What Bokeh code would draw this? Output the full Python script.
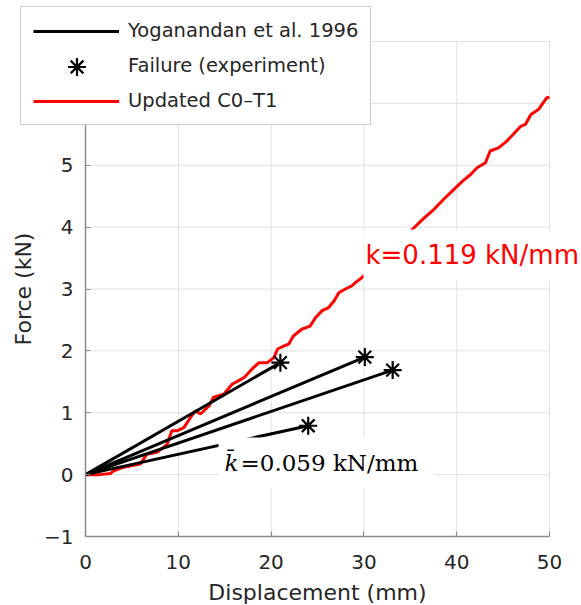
from bokeh.plotting import figure
from bokeh.models import Range1d, FixedTicker, Label, Legend, LegendItem
from bokeh.embed import file_html
from bokeh.resources import INLINE

# ---- data ----
# Updated C0-T1 model curve
model_disp = [0.0, 1.5, 2.7, 3.05, 4.1, 5.2, 5.9, 6.6, 7.7, 8.8, 9.3, 9.9, 10.6, 11.3,
              11.85, 12.4, 13.3, 13.8, 14.9, 15.8, 16.5, 17.1, 18.1, 18.7, 19.6, 20.3,
              20.7, 21.4, 21.9, 22.4, 23.3, 24.2, 24.8, 25.5, 26.2, 26.8, 27.3, 28.0,
              28.7, 29.3, 29.6, 31.5, 33.5, 35.4, 36.5, 37.5, 38.6, 39.7, 40.6, 41.5,
              42.2, 43.1, 43.6, 44.5, 45.4, 46.1, 46.9, 47.4, 48.0, 48.8, 49.7, 50.0]
model_force = [0.0, 0.0, 0.02, 0.06, 0.12, 0.15, 0.17, 0.33, 0.36, 0.49, 0.71, 0.71, 0.76, 0.92,
               1.03, 0.98, 1.11, 1.25, 1.30, 1.46, 1.52, 1.57, 1.73, 1.81, 1.81, 1.89,
               2.03, 2.08, 2.11, 2.24, 2.35, 2.40, 2.54, 2.65, 2.70, 2.81, 2.94, 3.00,
               3.05, 3.13, 3.16, 3.42, 3.72, 3.99, 4.15, 4.28, 4.45, 4.61, 4.74, 4.85,
               4.96, 5.04, 5.23, 5.28, 5.39, 5.50, 5.63, 5.66, 5.82, 5.90, 6.09, 6.10]

# Yoganandan et al. 1996: linear responses ending at failure points
fail_disp = [21.0, 30.1, 33.1, 24.0]
fail_force = [1.81, 1.90, 1.69, 0.79]
origin = [0.0, 0.0, 0.0, 0.0]

x_ticks = [0, 10, 20, 30, 40, 50]
y_ticks = [-1, 0, 1, 2, 3, 4, 5, 6, 7]
x_lim = (0, 50)
y_lim = (-1, 7)

legend_labels = ["Yoganandan et al. 1996", "Failure (experiment)", "Updated C0\u2013T1"]
model_label = "k=0.119 kN/mm"
exp_label_sym = "k\u0304"
exp_label_rest = "=0.059 kN/mm"

FONT = "DejaVu Sans"
TXT = "#262626"
GRID = "#e0e0e0"

# ---- layout: frame covers whole canvas so the legend/labels can overhang the axes box
W, H = 581, 605
AX_L, AX_R, AX_T, AX_B = 85, 549, 41, 536   # pixel box of the axes
sx = (AX_R - AX_L) / (x_lim[1] - x_lim[0])
sy = (AX_B - AX_T) / (y_lim[1] - y_lim[0])
x_range = Range1d(x_lim[0] - AX_L / sx, x_lim[1] + (W - AX_R) / sx)
y_range = Range1d(y_lim[0] - (H - AX_B) / sy, y_lim[1] + AX_T / sy)


def dx(px):
    return x_lim[0] + (px - AX_L) / sx


def dy(py):
    return y_lim[1] - (py - AX_T) / sy


p = figure(width=W, height=H, output_backend="svg", toolbar_location=None,
           x_range=x_range, y_range=y_range,
           min_border_left=0, min_border_right=0, min_border_top=0, min_border_bottom=0)
p.outline_line_color = None
p.background_fill_color = "white"
p.border_fill_color = "white"
p.xgrid.visible = False
p.ygrid.visible = False

# grid lines (from the tick lists, bounded to the axes box)
p.segment(x0=x_ticks, y0=[y_lim[0]] * len(x_ticks), x1=x_ticks, y1=[y_lim[1]] * len(x_ticks),
          line_color=GRID, line_width=1)
p.segment(x0=[x_lim[0]] * len(y_ticks), y0=y_ticks, x1=[x_lim[1]] * len(y_ticks), y1=y_ticks,
          line_color=GRID, line_width=1)

for ax in (p.xaxis[0], p.yaxis[0]):
    ax.axis_line_color = "#8c8c8c"
    ax.axis_line_width = 1.5
    ax.major_tick_line_color = "#8c8c8c"
    ax.major_tick_line_width = 1.2
    ax.major_tick_in = 5
    ax.major_tick_out = 0
    ax.minor_tick_line_color = None
    ax.major_label_text_font = FONT
    ax.major_label_text_font_size = "20px"
    ax.major_label_text_color = TXT
    ax.axis_label_text_font = FONT
    ax.axis_label_text_font_size = "22px"
    ax.axis_label_text_font_style = "normal"
    ax.axis_label_text_color = TXT

p.xaxis.fixed_location = y_lim[0]
p.yaxis.fixed_location = x_lim[0]
p.xaxis.bounds = x_lim
p.yaxis.bounds = y_lim
p.xaxis.ticker = FixedTicker(ticks=x_ticks)
p.yaxis.ticker = FixedTicker(ticks=y_ticks)
p.yaxis.major_label_overrides = {-1: "\u22121", 6: "", 7: ""}
p.xaxis.axis_label = "Displacement (mm)"
p.yaxis.axis_label = "Force (kN)"
p.xaxis.major_label_standoff = 18
p.yaxis.major_label_standoff = 12
p.xaxis.axis_label_standoff = 8
p.yaxis.axis_label_standoff = 5

# red model curve
r_model = p.line(model_disp, model_force, line_color="#ff0000", line_width=3)
# black experimental lines
r_exp = p.segment(x0=origin, y0=origin, x1=fail_disp, y1=fail_force,
                  line_color="black", line_width=3)
# failure stars
r_fail = p.scatter(fail_disp, fail_force, marker="asterisk", size=18,
                   line_color="black", line_width=2.2)
# invisible stand-in so the main legend row keeps its place (star drawn by a 2nd legend)
r_blank = p.scatter(x=[], y=[], marker="asterisk", line_alpha=0, fill_alpha=0)

# labels with white backgrounds
lab_model = Label(x=dx(363), y=dy(254), text=model_label,
                  text_font=FONT, text_font_size="26px", text_color="#ff0000",
                  text_baseline="middle", text_align="left",
                  background_fill_color="white",
                  padding={"left": 2, "right": 20, "top": 10, "bottom": 10})
p.add_layout(lab_model)

lab_exp = Label(x=dx(218), y=dy(462), text=exp_label_rest,
                text_font="DejaVu Serif", text_font_size="23px", text_color="black",
                text_baseline="middle", text_align="left",
                background_fill_color="white",
                padding={"left": 22, "right": 16, "top": 12, "bottom": 12})
p.add_layout(lab_exp)
lab_k = Label(x=dx(224), y=dy(462), text=exp_label_sym,
              text_font="DejaVu Serif", text_font_size="23px", text_font_style="italic",
              text_color="black", text_baseline="middle", text_align="left")
p.add_layout(lab_k)

# main legend
LEG_L, LEG_B, LEG_PAD, GLYPH_W = 20, 125, 12, 86
legend = Legend(items=[LegendItem(label=legend_labels[0], renderers=[r_exp]),
                       LegendItem(label=legend_labels[1], renderers=[r_blank]),
                       LegendItem(label=legend_labels[2], renderers=[r_model])],
                location=(LEG_L, H - LEG_B))
legend.label_text_font = FONT
legend.label_text_font_size = "19.5px"
legend.label_text_color = TXT
legend.glyph_width = GLYPH_W
legend.glyph_height = 20
legend.label_height = 20
legend.label_standoff = 9
legend.spacing = 12
legend.padding = LEG_PAD
legend.margin = 0
legend.border_line_color = "#9a9a9a"
legend.border_line_width = 1.5
legend.background_fill_color = "white"
legend.background_fill_alpha = 1
p.add_layout(legend, "center")

# second, frameless legend that draws the large failure star in the legend's middle row
STAR_BOX = 45
star_cx, star_cy = 77, 66.5
legend_star = Legend(items=[LegendItem(label=" ", renderers=[r_fail])],
                     location=(int(round(star_cx - STAR_BOX / 2)),
                               int(round(H - (star_cy + STAR_BOX / 2)))))
legend_star.glyph_width = STAR_BOX
legend_star.glyph_height = STAR_BOX
legend_star.label_height = 1
legend_star.label_width = 1
legend_star.label_standoff = 0
legend_star.label_text_font_size = "1px"
legend_star.padding = 0
legend_star.margin = 0
legend_star.spacing = 0
legend_star.border_line_color = None
legend_star.background_fill_alpha = 0
p.add_layout(legend_star, "center")

open("out.html", "w").write(file_html(p, INLINE))
